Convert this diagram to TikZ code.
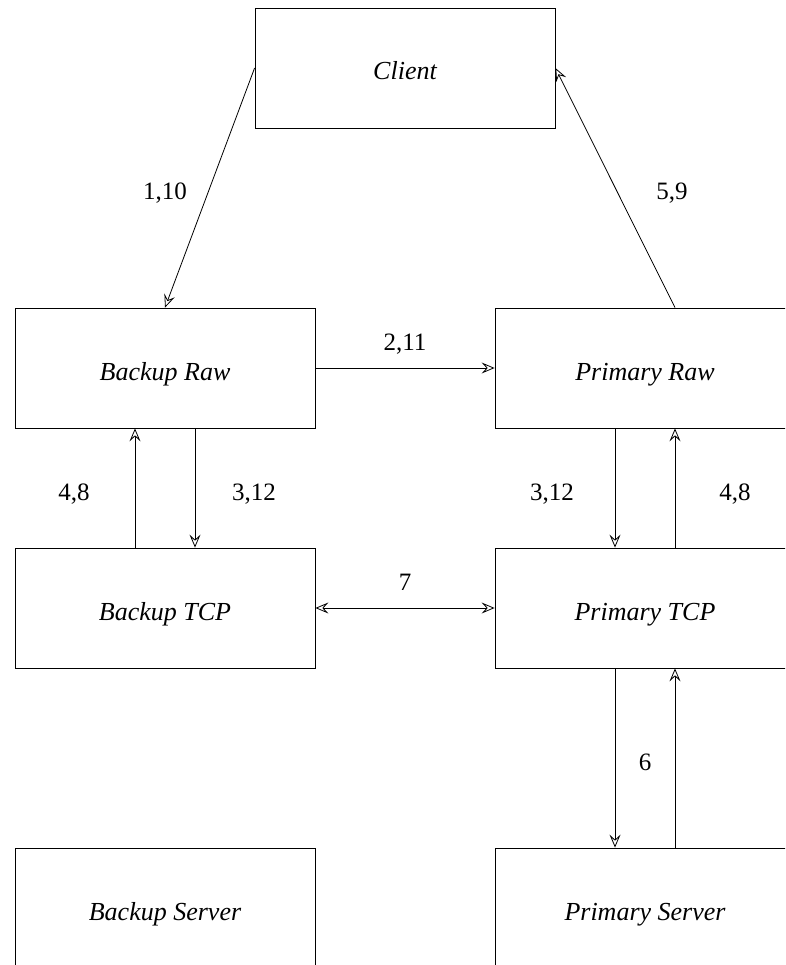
\documentclass[tikz,border=0pt]{standalone}
\usepackage{fontspec}
\setmainfont{Liberation Serif}[Ligatures=TeX]
\usetikzlibrary{arrows.meta}
\tikzset{
  mytip/.tip={Stealth[open,length=13pt,width=11pt,inset=5pt,line width=0.8pt]}
}
\begin{document}
\begin{tikzpicture}[x=1pt,y=-1pt, line width=0.8pt,
  box/.style={draw, minimum width=300pt, minimum height=120pt, inner sep=0pt,
    text height=24pt, text depth=0pt, font=\rmfamily\fontsize{26}{30}\selectfont\itshape},
  lbl/.style={font=\rmfamily\fontsize{25}{30}\selectfont, inner sep=0pt, anchor=base},
  arr/.style={-mytip},
  darr/.style={mytip-mytip}]
\useasboundingbox (0,0) rectangle (785,965);
\clip (0,0) rectangle (785,965);
\node[box] (client) at (405,68) {Client};
\node[box] (braw) at (165,368) {Backup Raw};
\node[box] (praw) at (645,368) {Primary Raw};
\node[box] (btcp) at (165,608) {Backup TCP};
\node[box] (ptcp) at (645,608) {Primary TCP};
\node[box] (bsrv) at (165,908) {Backup Server};
\node[box] (psrv) at (645,908) {Primary Server};

\draw[arr] (client.west) -- (braw.north);
\draw[arr] ([xshift=30pt]praw.north) -- (client.east);
\draw[arr] (braw.east) -- (praw.west);
\draw[arr] ([xshift=30pt]braw.south) -- ([xshift=30pt]btcp.north);
\draw[arr] ([xshift=-30pt]btcp.north) -- ([xshift=-30pt]braw.south);
\draw[arr] ([xshift=-30pt]praw.south) -- ([xshift=-30pt]ptcp.north);
\draw[arr] ([xshift=30pt]ptcp.north) -- ([xshift=30pt]praw.south);
\draw[darr] (btcp.east) -- (ptcp.west);
\draw[arr] ([xshift=-30pt]ptcp.south) -- ([xshift=-30pt]psrv.north);
\draw[arr] ([xshift=30pt]psrv.north) -- ([xshift=30pt]ptcp.south);

\node[lbl] (l110) at (165,200) {1,10};
\node[lbl] (l59) at (672,200) {5,9};
\node[lbl] (l211) at (405,350) {2,11};
\node[lbl] (l48a) at (74,500) {4,8};
\node[lbl] (l312a) at (254,500) {3,12};
\node[lbl] (l312b) at (552,500) {3,12};
\node[lbl] (l48b) at (735,500) {4,8};
\node[lbl] (l7) at (405,590) {7};
\node[lbl] (l6) at (645,770) {6};
\end{tikzpicture}
\end{document}
